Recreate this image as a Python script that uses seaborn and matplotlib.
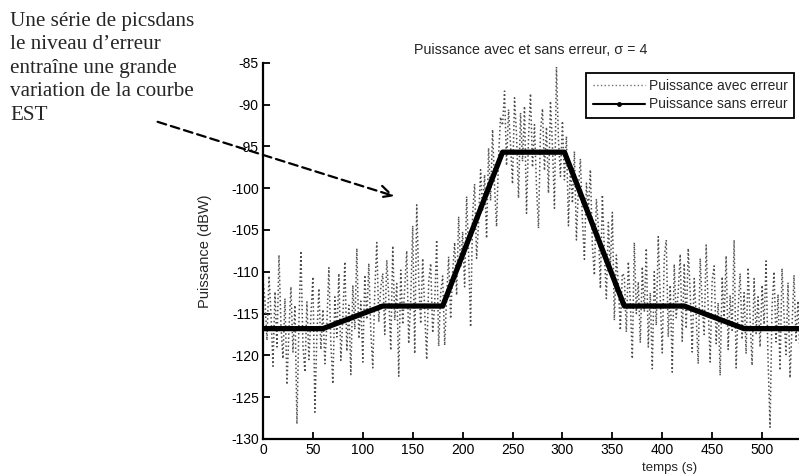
import numpy as np
import pandas as pd
import matplotlib
matplotlib.use("Agg")
import matplotlib.pyplot as plt
from matplotlib.lines import Line2D
from matplotlib.patches import FancyArrowPatch
import seaborn as sns

# Sampling instants of the measured power (s)
temps = np.arange(0, 540, 2)

# Measured power including the error term (dBW), one value every 2 s
puissance_avec_erreur = [
    # 0 - 58 s
    -111.0, -113.5, -118.2, -110.5, -115.0, -121.3, -112.4, -119.0, -108.0, -116.5,
    -120.4, -113.2, -123.5, -117.0, -111.8, -119.6, -114.0, -128.2, -116.0, -107.5,
    -118.8, -122.0, -113.6, -120.5, -115.2, -110.6, -126.8, -117.5, -112.0, -119.3,
    # 60 - 118 s
    -114.5, -121.0, -116.2, -109.5, -118.7, -123.4, -113.0, -117.8, -110.2, -120.6,
    -115.4, -108.8, -119.5, -114.0, -122.3, -111.6, -116.9, -107.2, -118.0, -113.5,
    -120.8, -110.4, -115.7, -109.0, -117.2, -121.5, -112.3, -106.5, -116.0, -111.8,
    # 120 - 178 s
    -110.2, -117.5, -108.6, -113.0, -119.4, -106.9, -115.8, -111.4, -122.5, -109.8,
    -116.3, -112.0, -107.5, -118.6, -113.4, -104.5, -119.8, -102.0, -110.9, -116.2,
    -108.4, -114.7, -120.5, -111.2, -109.0, -117.3, -113.8, -106.2, -118.9, -112.5,
    # 180 - 238 s
    -110.5, -118.8, -113.0, -108.2, -115.6, -110.0, -106.5, -112.8, -103.4, -109.5,
    -105.2, -111.8, -101.0, -107.9, -116.6, -103.2, -99.5, -108.4, -104.0, -97.8,
    -102.6, -98.4, -106.0, -95.2, -101.5, -93.0, -99.8, -104.6, -96.2, -91.5,
    # 240 - 300 s
    -92.5, -88.4, -97.3, -90.6, -94.8, -99.5, -89.2, -93.6, -101.2, -91.0,
    -96.8, -90.2, -103.0, -94.1, -88.7, -97.5, -92.4, -99.8, -104.8, -93.3,
    -90.5, -97.9, -92.7, -100.6, -89.6, -95.0, -102.4, -85.5, -94.2, -98.6,
    -92.0,
    # 302 - 360 s
    -99.0, -93.8, -104.5, -97.2, -101.8, -95.6, -106.2, -100.0, -96.5, -103.8,
    -108.5, -99.4, -102.6, -97.8, -106.9, -110.4, -101.3, -104.7, -112.0, -100.8,
    -107.5, -113.2, -104.1, -109.6, -102.9, -115.8, -108.0, -111.5, -117.0, -110.2,
    # 362 - 420 s
    -110.5, -117.2, -108.8, -113.6, -120.4, -106.5, -115.0, -111.2, -118.5, -109.4,
    -114.8, -107.2, -119.0, -112.5, -121.6, -110.0, -116.4, -105.8, -113.2, -119.7,
    -108.3, -106.2, -117.8, -111.6, -122.0, -109.1, -115.5, -112.4, -107.9, -118.3,
    # 422 - 480 s
    -109.0, -116.8, -107.2, -112.5, -119.6, -110.8, -115.3, -121.0, -108.4, -113.9,
    -117.5, -106.8, -114.2, -120.8, -111.0, -109.3, -118.6, -113.7, -122.4, -110.6,
    -115.9, -108.1, -119.3, -112.8, -117.0, -106.2, -121.5, -114.4, -110.2, -118.1,
    # 482 - 538 s
    -112.5, -119.8, -109.5, -115.6, -121.2, -110.8, -117.4, -113.0, -119.0, -111.6,
    -116.3, -108.7, -120.5, -128.6, -114.2, -110.0, -118.4, -112.7, -121.8, -109.6,
    -115.2, -119.9, -111.3, -122.7, -116.5, -110.4, -118.2, -113.5, -120.1,
]

# Error-free power profile (dBW) at its break points
temps_sans = [0, 60, 120, 180, 240, 302, 362, 422, 482, 540]
puissance_sans_erreur = [-116.8, -116.8, -114.1, -114.1, -95.7,
                         -95.7, -114.1, -114.1, -116.8, -116.8]

y_ticks = [-85, -90, -95, -100, -105, -110, -115, -120, -125, -130]
x_ticks = [0, 50, 100, 150, 200, 250, 300, 350, 400, 450, 500]

df_avec = pd.DataFrame({"temps": temps, "puissance": puissance_avec_erreur})
df_sans = pd.DataFrame({"temps": temps_sans, "puissance": puissance_sans_erreur})

sns.set_style("ticks")
plt.rcParams["font.family"] = ["Liberation Sans", "DejaVu Sans"]
plt.rcParams["axes.unicode_minus"] = False
plt.rcParams["xtick.direction"] = "in"
plt.rcParams["ytick.direction"] = "in"

fig = plt.figure(figsize=(7.99, 4.75), dpi=100)
ax = fig.add_axes([263 / 799, 1 - 439 / 475, 1 - 263 / 799, (439 - 62.7) / 475])

sns.lineplot(data=df_avec, x="temps", y="puissance", ax=ax, color="0.3",
             linestyle=":", linewidth=1.1, legend=False)
sns.lineplot(data=df_sans, x="temps", y="puissance", ax=ax, color="black",
             linewidth=3.8, legend=False, solid_capstyle="butt")

ax.set_xlim(0, 537)
ax.set_ylim(-130, -85)
ax.set_xticks(x_ticks)
ax.set_yticks(y_ticks)
ax.tick_params(axis="both", labelsize=10, length=5, width=1.3, colors="black", pad=3)
for side in ("top", "right"):
    ax.spines[side].set_visible(False)
for side in ("left", "bottom"):
    ax.spines[side].set_linewidth(1.6)
    ax.spines[side].set_color("black")

ax.set_xlabel("temps (s)", fontsize=9.5)
ax.xaxis.set_label_coords((670 - 263) / (799 - 263), -0.062)
ax.set_ylabel("Puissance (dBW)", fontsize=10.5)
ax.yaxis.set_label_coords(-(263 - 212) / (799 - 263), 0.5)

fig.text(531 / 799, 1 - 50 / 475, "Puissance avec et sans erreur, σ = 4",
         ha="center", va="center", fontsize=10.3)

handles = [
    Line2D([], [], color="0.45", linestyle=":", linewidth=1.0),
    Line2D([], [], color="black", linestyle="-", linewidth=1.5,
           marker=".", markersize=5),
]
leg = ax.legend(handles, ["Puissance avec erreur", "Puissance sans erreur"],
                loc="upper right", bbox_to_anchor=(794 / 799, 1 - 73 / 475),
                bbox_transform=fig.transFigure, fontsize=10, frameon=True,
                fancybox=False, handlelength=3.8, handletextpad=0.25,
                borderpad=0.45, labelspacing=0.3, borderaxespad=0)
leg.get_frame().set_edgecolor("black")
leg.get_frame().set_linewidth(1.3)
leg.get_frame().set_facecolor("white")
leg.get_frame().set_alpha(1.0)

# Side note with its arrow
fig.text(10 / 799, 1 - 12 / 475,
         "Une série de picsdans\nle niveau d’erreur\nentraîne une grande\nvariation de la courbe\nEST",
         ha="left", va="top", fontsize=15.2, family="Liberation Serif",
         linespacing=1.32)
fig.patches.append(FancyArrowPatch(
    (155 / 799, 1 - 121 / 475), (397 / 799, 1 - 197 / 475),
    transform=fig.transFigure, arrowstyle="->", mutation_scale=22,
    linestyle=(0, (4, 2.2)), linewidth=1.6, color="black"))

fig.savefig("out.png", dpi=100)
